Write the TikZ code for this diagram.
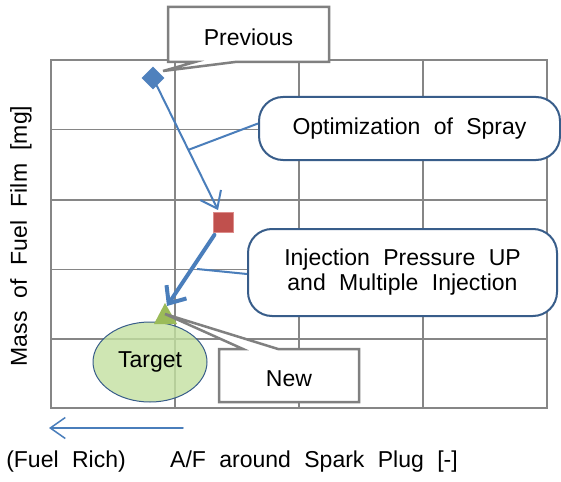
\documentclass[tikz,border=0pt]{standalone}
\usepackage{fontspec}
\setmainfont{Liberation Sans}[WordSpace=2.1]
\usetikzlibrary{arrows.meta,shapes.geometric}
\definecolor{gridgray}{RGB}{134,134,134}
\definecolor{arrowblue}{RGB}{74,126,187}
\definecolor{boxblue}{RGB}{56,93,138}
\definecolor{diamondblue}{RGB}{79,129,189}
\definecolor{sqred}{RGB}{192,80,77}
\definecolor{sqborder}{RGB}{220,140,138}
\definecolor{trigreen}{RGB}{155,187,89}
\definecolor{ellgreen}{RGB}{195,224,160}
\definecolor{calloutgray}{RGB}{128,128,128}
\begin{document}
\begin{tikzpicture}[x=1pt,y=-1pt,
  font=\fontsize{23}{26}\selectfont,
  gridline/.style={draw=gridgray, line width=1.5pt},
  roundbox/.style={draw=boxblue, line width=2pt, fill=white, rounded corners=24pt, align=center},
  calloutbox/.style={draw=calloutgray, line width=2.5pt, fill=white, line join=miter},
  pointer/.style={draw=arrowblue, line width=2pt},
  flowarrow/.style={draw=arrowblue, line join=round, line cap=round}
]
\useasboundingbox (0,0) rectangle (561,481);
\fill[white] (0,0) rectangle (561,481);

% grid
\draw[gridline] (51,60) rectangle (547,408);
\foreach \gx in {175,299,423} \draw[gridline] (\gx,60) -- (\gx,408);
\foreach \gy in {129.5,200,269.5,339} \draw[gridline] (51,\gy) -- (547,\gy);

% target ellipse
\node[ellipse, draw=boxblue, line width=1pt, fill=ellgreen, fill opacity=0.8, text opacity=1,
      minimum width=114pt, minimum height=80pt] (target) at (150,362) {Target};

% rounded boxes
\node[roundbox, minimum width=301pt, minimum height=63pt] (opt) at (409.5,128.5) {Optimization of Spray};
\node[roundbox, minimum width=309pt, minimum height=87pt] (inj) at (402.5,272.5)
  {Injection Pressure UP\\[-1pt]and Multiple Injection};

% markers
\node[diamond, fill=diamondblue, inner sep=0pt, minimum size=23pt] (prev) at (153,78) {};
\node[rectangle, fill=sqred, draw=sqborder, line width=0.8pt, inner sep=0pt, minimum size=20pt] (mid) at (223,222) {};
\coordinate (newpt) at (165,303);
\fill[trigreen] (newpt) -- (177,324) -- (154,324) -- cycle;

% pointer lines from boxes
\coordinate (optpt) at (188,150);
\coordinate (injpt) at (197,269);
\draw[pointer] ([yshift=5pt]opt.west) -- (optpt);
\draw[pointer] ([yshift=-1.5pt]inj.west) -- (injpt);

% flow arrows
\coordinate (midtop) at (218,210);
\coordinate (newtip) at (167,306);
\draw[flowarrow, line width=2pt, -{Straight Barb[length=15pt,width=23pt]}] (prev) -- (midtop);
\draw[flowarrow, line width=4pt, shorten <=3pt, -{Straight Barb[length=14pt,width=24pt]}] (mid) -- (newtip);

% callouts
\draw[calloutbox] (168,7) -- (329,7) -- (329,62) -- (235,62) -- (163,71) -- (195,62) -- (168,62) -- cycle;
\node (prevtext) at (248.5,37) {Previous};
\draw[calloutbox] (219,349) -- (243,349) -- (165,314) -- (278,349) -- (359,349) -- (359,402) -- (219,402) -- cycle;
\node (newtext) at (289,379) {New};

% axis
\coordinate (richstart) at (183,428);
\coordinate (richend) at (49,428);
\draw[flowarrow, line width=1.5pt, -{Straight Barb[length=15pt,width=21pt]}] (richstart) -- (richend);
\node (rich) at (66,462) {(Fuel Rich)};
\node (xlabel) at (314,462) {A/F around Spark Plug [-]};
\node[rotate=90] (ylabel) at (21,236) {Mass of Fuel Film [mg]};
\end{tikzpicture}
\end{document}
